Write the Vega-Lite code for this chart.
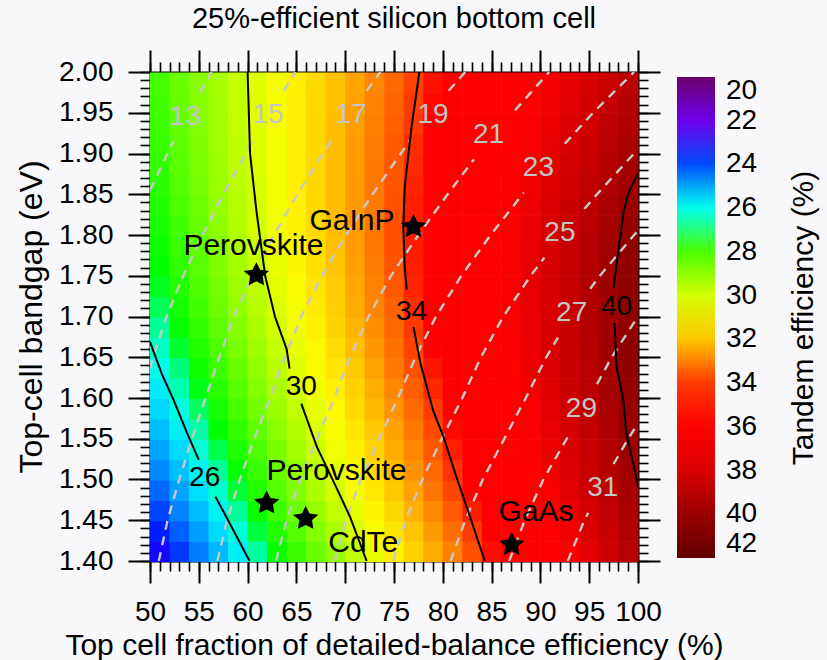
{
"$schema":"https://vega.github.io/schema/vega-lite/v6.json",
"autosize":"none","width":488,"height":489,
"padding":{"left":150,"top":72,"right":189,"bottom":99},
"background":"#f8f8fa",
"title":{"text":"25%-efficient silicon bottom cell","fontSize":29,"fontWeight":"normal","font":"Liberation Sans","color":"black","anchor":"middle","baseline":"bottom","offset":16,"dy":30},
"config":{"font":"Liberation Sans","view":{"stroke":null},"axis":{"grid":false,"domainColor":"black","tickColor":"black","labelColor":"black","titleColor":"black","labelFont":"Liberation Sans","titleFont":"Liberation Sans","titleFontWeight":"normal","labelOverlap":false,"labelFlush":false,"labelBound":false}},
"datasets":{
"heat":[
{"x":51,"y":1.4125,"v":23.13},{"x":53,"y":1.4125,"v":23.79},{"x":55,"y":1.4125,"v":24.46},{"x":57,"y":1.4125,"v":25.12},{"x":59,"y":1.4125,"v":25.78},{"x":61,"y":1.4125,"v":26.44},{"x":63,"y":1.4125,"v":27.10},{"x":65,"y":1.4125,"v":27.77},{"x":67,"y":1.4125,"v":28.43},{"x":69,"y":1.4125,"v":29.09},{"x":71,"y":1.4125,"v":29.75},{"x":73,"y":1.4125,"v":30.41},{"x":75,"y":1.4125,"v":31.08},{"x":77,"y":1.4125,"v":31.74},{"x":79,"y":1.4125,"v":32.40},{"x":81,"y":1.4125,"v":33.06},{"x":83,"y":1.4125,"v":33.72},{"x":85,"y":1.4125,"v":34.39},{"x":87,"y":1.4125,"v":35.05},{"x":89,"y":1.4125,"v":35.71},{"x":91,"y":1.4125,"v":36.37},{"x":93,"y":1.4125,"v":37.03},{"x":95,"y":1.4125,"v":37.70},{"x":97,"y":1.4125,"v":38.36},{"x":99,"y":1.4125,"v":39.02},
{"x":51,"y":1.4375,"v":23.53},{"x":53,"y":1.4375,"v":24.18},{"x":55,"y":1.4375,"v":24.84},{"x":57,"y":1.4375,"v":25.49},{"x":59,"y":1.4375,"v":26.14},{"x":61,"y":1.4375,"v":26.80},{"x":63,"y":1.4375,"v":27.45},{"x":65,"y":1.4375,"v":28.11},{"x":67,"y":1.4375,"v":28.76},{"x":69,"y":1.4375,"v":29.41},{"x":71,"y":1.4375,"v":30.07},{"x":73,"y":1.4375,"v":30.72},{"x":75,"y":1.4375,"v":31.38},{"x":77,"y":1.4375,"v":32.03},{"x":79,"y":1.4375,"v":32.68},{"x":81,"y":1.4375,"v":33.34},{"x":83,"y":1.4375,"v":33.99},{"x":85,"y":1.4375,"v":34.65},{"x":87,"y":1.4375,"v":35.30},{"x":89,"y":1.4375,"v":35.95},{"x":91,"y":1.4375,"v":36.61},{"x":93,"y":1.4375,"v":37.26},{"x":95,"y":1.4375,"v":37.92},{"x":97,"y":1.4375,"v":38.57},{"x":99,"y":1.4375,"v":39.22},
{"x":51,"y":1.4625,"v":23.90},{"x":53,"y":1.4625,"v":24.55},{"x":55,"y":1.4625,"v":25.20},{"x":57,"y":1.4625,"v":25.84},{"x":59,"y":1.4625,"v":26.49},{"x":61,"y":1.4625,"v":27.14},{"x":63,"y":1.4625,"v":27.78},{"x":65,"y":1.4625,"v":28.43},{"x":67,"y":1.4625,"v":29.08},{"x":69,"y":1.4625,"v":29.72},{"x":71,"y":1.4625,"v":30.37},{"x":73,"y":1.4625,"v":31.02},{"x":75,"y":1.4625,"v":31.66},{"x":77,"y":1.4625,"v":32.31},{"x":79,"y":1.4625,"v":32.96},{"x":81,"y":1.4625,"v":33.60},{"x":83,"y":1.4625,"v":34.25},{"x":85,"y":1.4625,"v":34.90},{"x":87,"y":1.4625,"v":35.54},{"x":89,"y":1.4625,"v":36.19},{"x":91,"y":1.4625,"v":36.84},{"x":93,"y":1.4625,"v":37.48},{"x":95,"y":1.4625,"v":38.13},{"x":97,"y":1.4625,"v":38.78},{"x":99,"y":1.4625,"v":39.42},
{"x":51,"y":1.4875,"v":24.26},{"x":53,"y":1.4875,"v":24.90},{"x":55,"y":1.4875,"v":25.54},{"x":57,"y":1.4875,"v":26.18},{"x":59,"y":1.4875,"v":26.82},{"x":61,"y":1.4875,"v":27.46},{"x":63,"y":1.4875,"v":28.10},{"x":65,"y":1.4875,"v":28.74},{"x":67,"y":1.4875,"v":29.38},{"x":69,"y":1.4875,"v":30.02},{"x":71,"y":1.4875,"v":30.66},{"x":73,"y":1.4875,"v":31.30},{"x":75,"y":1.4875,"v":31.94},{"x":77,"y":1.4875,"v":32.57},{"x":79,"y":1.4875,"v":33.21},{"x":81,"y":1.4875,"v":33.85},{"x":83,"y":1.4875,"v":34.49},{"x":85,"y":1.4875,"v":35.13},{"x":87,"y":1.4875,"v":35.77},{"x":89,"y":1.4875,"v":36.41},{"x":91,"y":1.4875,"v":37.05},{"x":93,"y":1.4875,"v":37.69},{"x":95,"y":1.4875,"v":38.33},{"x":97,"y":1.4875,"v":38.97},{"x":99,"y":1.4875,"v":39.61},
{"x":51,"y":1.5125,"v":24.59},{"x":53,"y":1.5125,"v":25.22},{"x":55,"y":1.5125,"v":25.85},{"x":57,"y":1.5125,"v":26.48},{"x":59,"y":1.5125,"v":27.11},{"x":61,"y":1.5125,"v":27.75},{"x":63,"y":1.5125,"v":28.38},{"x":65,"y":1.5125,"v":29.01},{"x":67,"y":1.5125,"v":29.64},{"x":69,"y":1.5125,"v":30.27},{"x":71,"y":1.5125,"v":30.91},{"x":73,"y":1.5125,"v":31.54},{"x":75,"y":1.5125,"v":32.17},{"x":77,"y":1.5125,"v":32.80},{"x":79,"y":1.5125,"v":33.43},{"x":81,"y":1.5125,"v":34.07},{"x":83,"y":1.5125,"v":34.70},{"x":85,"y":1.5125,"v":35.33},{"x":87,"y":1.5125,"v":35.96},{"x":89,"y":1.5125,"v":36.59},{"x":91,"y":1.5125,"v":37.23},{"x":93,"y":1.5125,"v":37.86},{"x":95,"y":1.5125,"v":38.49},{"x":97,"y":1.5125,"v":39.12},{"x":99,"y":1.5125,"v":39.75},
{"x":51,"y":1.5375,"v":24.88},{"x":53,"y":1.5375,"v":25.51},{"x":55,"y":1.5375,"v":26.13},{"x":57,"y":1.5375,"v":26.75},{"x":59,"y":1.5375,"v":27.38},{"x":61,"y":1.5375,"v":28.00},{"x":63,"y":1.5375,"v":28.63},{"x":65,"y":1.5375,"v":29.25},{"x":67,"y":1.5375,"v":29.87},{"x":69,"y":1.5375,"v":30.50},{"x":71,"y":1.5375,"v":31.12},{"x":73,"y":1.5375,"v":31.75},{"x":75,"y":1.5375,"v":32.37},{"x":77,"y":1.5375,"v":32.99},{"x":79,"y":1.5375,"v":33.62},{"x":81,"y":1.5375,"v":34.24},{"x":83,"y":1.5375,"v":34.87},{"x":85,"y":1.5375,"v":35.49},{"x":87,"y":1.5375,"v":36.11},{"x":89,"y":1.5375,"v":36.74},{"x":91,"y":1.5375,"v":37.36},{"x":93,"y":1.5375,"v":37.99},{"x":95,"y":1.5375,"v":38.61},{"x":97,"y":1.5375,"v":39.23},{"x":99,"y":1.5375,"v":39.86},
{"x":51,"y":1.5625,"v":25.17},{"x":53,"y":1.5625,"v":25.79},{"x":55,"y":1.5625,"v":26.41},{"x":57,"y":1.5625,"v":27.02},{"x":59,"y":1.5625,"v":27.64},{"x":61,"y":1.5625,"v":28.26},{"x":63,"y":1.5625,"v":28.87},{"x":65,"y":1.5625,"v":29.49},{"x":67,"y":1.5625,"v":30.11},{"x":69,"y":1.5625,"v":30.72},{"x":71,"y":1.5625,"v":31.34},{"x":73,"y":1.5625,"v":31.96},{"x":75,"y":1.5625,"v":32.57},{"x":77,"y":1.5625,"v":33.19},{"x":79,"y":1.5625,"v":33.81},{"x":81,"y":1.5625,"v":34.42},{"x":83,"y":1.5625,"v":35.04},{"x":85,"y":1.5625,"v":35.66},{"x":87,"y":1.5625,"v":36.27},{"x":89,"y":1.5625,"v":36.89},{"x":91,"y":1.5625,"v":37.51},{"x":93,"y":1.5625,"v":38.12},{"x":95,"y":1.5625,"v":38.74},{"x":97,"y":1.5625,"v":39.36},{"x":99,"y":1.5625,"v":39.97},
{"x":51,"y":1.5875,"v":25.46},{"x":53,"y":1.5875,"v":26.07},{"x":55,"y":1.5875,"v":26.68},{"x":57,"y":1.5875,"v":27.29},{"x":59,"y":1.5875,"v":27.90},{"x":61,"y":1.5875,"v":28.51},{"x":63,"y":1.5875,"v":29.12},{"x":65,"y":1.5875,"v":29.73},{"x":67,"y":1.5875,"v":30.34},{"x":69,"y":1.5875,"v":30.95},{"x":71,"y":1.5875,"v":31.56},{"x":73,"y":1.5875,"v":32.17},{"x":75,"y":1.5875,"v":32.78},{"x":77,"y":1.5875,"v":33.38},{"x":79,"y":1.5875,"v":33.99},{"x":81,"y":1.5875,"v":34.60},{"x":83,"y":1.5875,"v":35.21},{"x":85,"y":1.5875,"v":35.82},{"x":87,"y":1.5875,"v":36.43},{"x":89,"y":1.5875,"v":37.04},{"x":91,"y":1.5875,"v":37.65},{"x":93,"y":1.5875,"v":38.26},{"x":95,"y":1.5875,"v":38.87},{"x":97,"y":1.5875,"v":39.48},{"x":99,"y":1.5875,"v":40.09},
{"x":51,"y":1.6125,"v":25.74},{"x":53,"y":1.6125,"v":26.34},{"x":55,"y":1.6125,"v":26.94},{"x":57,"y":1.6125,"v":27.54},{"x":59,"y":1.6125,"v":28.15},{"x":61,"y":1.6125,"v":28.75},{"x":63,"y":1.6125,"v":29.35},{"x":65,"y":1.6125,"v":29.95},{"x":67,"y":1.6125,"v":30.55},{"x":69,"y":1.6125,"v":31.16},{"x":71,"y":1.6125,"v":31.76},{"x":73,"y":1.6125,"v":32.36},{"x":75,"y":1.6125,"v":32.96},{"x":77,"y":1.6125,"v":33.56},{"x":79,"y":1.6125,"v":34.17},{"x":81,"y":1.6125,"v":34.77},{"x":83,"y":1.6125,"v":35.37},{"x":85,"y":1.6125,"v":35.97},{"x":87,"y":1.6125,"v":36.57},{"x":89,"y":1.6125,"v":37.18},{"x":91,"y":1.6125,"v":37.78},{"x":93,"y":1.6125,"v":38.38},{"x":95,"y":1.6125,"v":38.98},{"x":97,"y":1.6125,"v":39.58},{"x":99,"y":1.6125,"v":40.19},
{"x":51,"y":1.6375,"v":26.01},{"x":53,"y":1.6375,"v":26.60},{"x":55,"y":1.6375,"v":27.20},{"x":57,"y":1.6375,"v":27.79},{"x":59,"y":1.6375,"v":28.39},{"x":61,"y":1.6375,"v":28.98},{"x":63,"y":1.6375,"v":29.57},{"x":65,"y":1.6375,"v":30.17},{"x":67,"y":1.6375,"v":30.76},{"x":69,"y":1.6375,"v":31.36},{"x":71,"y":1.6375,"v":31.95},{"x":73,"y":1.6375,"v":32.54},{"x":75,"y":1.6375,"v":33.14},{"x":77,"y":1.6375,"v":33.73},{"x":79,"y":1.6375,"v":34.33},{"x":81,"y":1.6375,"v":34.92},{"x":83,"y":1.6375,"v":35.51},{"x":85,"y":1.6375,"v":36.11},{"x":87,"y":1.6375,"v":36.70},{"x":89,"y":1.6375,"v":37.30},{"x":91,"y":1.6375,"v":37.89},{"x":93,"y":1.6375,"v":38.48},{"x":95,"y":1.6375,"v":39.08},{"x":97,"y":1.6375,"v":39.67},{"x":99,"y":1.6375,"v":40.27},
{"x":51,"y":1.6625,"v":26.26},{"x":53,"y":1.6625,"v":26.85},{"x":55,"y":1.6625,"v":27.44},{"x":57,"y":1.6625,"v":28.02},{"x":59,"y":1.6625,"v":28.61},{"x":61,"y":1.6625,"v":29.19},{"x":63,"y":1.6625,"v":29.78},{"x":65,"y":1.6625,"v":30.37},{"x":67,"y":1.6625,"v":30.95},{"x":69,"y":1.6625,"v":31.54},{"x":71,"y":1.6625,"v":32.12},{"x":73,"y":1.6625,"v":32.71},{"x":75,"y":1.6625,"v":33.30},{"x":77,"y":1.6625,"v":33.88},{"x":79,"y":1.6625,"v":34.47},{"x":81,"y":1.6625,"v":35.05},{"x":83,"y":1.6625,"v":35.64},{"x":85,"y":1.6625,"v":36.23},{"x":87,"y":1.6625,"v":36.81},{"x":89,"y":1.6625,"v":37.40},{"x":91,"y":1.6625,"v":37.98},{"x":93,"y":1.6625,"v":38.57},{"x":95,"y":1.6625,"v":39.16},{"x":97,"y":1.6625,"v":39.74},{"x":99,"y":1.6625,"v":40.33},
{"x":51,"y":1.6875,"v":26.50},{"x":53,"y":1.6875,"v":27.08},{"x":55,"y":1.6875,"v":27.66},{"x":57,"y":1.6875,"v":28.23},{"x":59,"y":1.6875,"v":28.81},{"x":61,"y":1.6875,"v":29.39},{"x":63,"y":1.6875,"v":29.97},{"x":65,"y":1.6875,"v":30.55},{"x":67,"y":1.6875,"v":31.12},{"x":69,"y":1.6875,"v":31.70},{"x":71,"y":1.6875,"v":32.28},{"x":73,"y":1.6875,"v":32.86},{"x":75,"y":1.6875,"v":33.44},{"x":77,"y":1.6875,"v":34.01},{"x":79,"y":1.6875,"v":34.59},{"x":81,"y":1.6875,"v":35.17},{"x":83,"y":1.6875,"v":35.75},{"x":85,"y":1.6875,"v":36.33},{"x":87,"y":1.6875,"v":36.90},{"x":89,"y":1.6875,"v":37.48},{"x":91,"y":1.6875,"v":38.06},{"x":93,"y":1.6875,"v":38.64},{"x":95,"y":1.6875,"v":39.22},{"x":97,"y":1.6875,"v":39.79},{"x":99,"y":1.6875,"v":40.37},
{"x":51,"y":1.7125,"v":26.71},{"x":53,"y":1.7125,"v":27.28},{"x":55,"y":1.7125,"v":27.85},{"x":57,"y":1.7125,"v":28.42},{"x":59,"y":1.7125,"v":28.99},{"x":61,"y":1.7125,"v":29.56},{"x":63,"y":1.7125,"v":30.12},{"x":65,"y":1.7125,"v":30.69},{"x":67,"y":1.7125,"v":31.26},{"x":69,"y":1.7125,"v":31.83},{"x":71,"y":1.7125,"v":32.40},{"x":73,"y":1.7125,"v":32.97},{"x":75,"y":1.7125,"v":33.54},{"x":77,"y":1.7125,"v":34.11},{"x":79,"y":1.7125,"v":34.68},{"x":81,"y":1.7125,"v":35.25},{"x":83,"y":1.7125,"v":35.82},{"x":85,"y":1.7125,"v":36.39},{"x":87,"y":1.7125,"v":36.96},{"x":89,"y":1.7125,"v":37.53},{"x":91,"y":1.7125,"v":38.10},{"x":93,"y":1.7125,"v":38.67},{"x":95,"y":1.7125,"v":39.24},{"x":97,"y":1.7125,"v":39.81},{"x":99,"y":1.7125,"v":40.38},
{"x":51,"y":1.7375,"v":26.89},{"x":53,"y":1.7375,"v":27.45},{"x":55,"y":1.7375,"v":28.01},{"x":57,"y":1.7375,"v":28.57},{"x":59,"y":1.7375,"v":29.13},{"x":61,"y":1.7375,"v":29.69},{"x":63,"y":1.7375,"v":30.25},{"x":65,"y":1.7375,"v":30.81},{"x":67,"y":1.7375,"v":31.37},{"x":69,"y":1.7375,"v":31.93},{"x":71,"y":1.7375,"v":32.49},{"x":73,"y":1.7375,"v":33.05},{"x":75,"y":1.7375,"v":33.62},{"x":77,"y":1.7375,"v":34.18},{"x":79,"y":1.7375,"v":34.74},{"x":81,"y":1.7375,"v":35.30},{"x":83,"y":1.7375,"v":35.86},{"x":85,"y":1.7375,"v":36.42},{"x":87,"y":1.7375,"v":36.98},{"x":89,"y":1.7375,"v":37.54},{"x":91,"y":1.7375,"v":38.10},{"x":93,"y":1.7375,"v":38.66},{"x":95,"y":1.7375,"v":39.22},{"x":97,"y":1.7375,"v":39.78},{"x":99,"y":1.7375,"v":40.34},
{"x":51,"y":1.7625,"v":27.05},{"x":53,"y":1.7625,"v":27.60},{"x":55,"y":1.7625,"v":28.16},{"x":57,"y":1.7625,"v":28.71},{"x":59,"y":1.7625,"v":29.26},{"x":61,"y":1.7625,"v":29.81},{"x":63,"y":1.7625,"v":30.36},{"x":65,"y":1.7625,"v":30.92},{"x":67,"y":1.7625,"v":31.47},{"x":69,"y":1.7625,"v":32.02},{"x":71,"y":1.7625,"v":32.57},{"x":73,"y":1.7625,"v":33.12},{"x":75,"y":1.7625,"v":33.68},{"x":77,"y":1.7625,"v":34.23},{"x":79,"y":1.7625,"v":34.78},{"x":81,"y":1.7625,"v":35.33},{"x":83,"y":1.7625,"v":35.88},{"x":85,"y":1.7625,"v":36.44},{"x":87,"y":1.7625,"v":36.99},{"x":89,"y":1.7625,"v":37.54},{"x":91,"y":1.7625,"v":38.09},{"x":93,"y":1.7625,"v":38.64},{"x":95,"y":1.7625,"v":39.20},{"x":97,"y":1.7625,"v":39.75},{"x":99,"y":1.7625,"v":40.30},
{"x":51,"y":1.7875,"v":27.20},{"x":53,"y":1.7875,"v":27.74},{"x":55,"y":1.7875,"v":28.29},{"x":57,"y":1.7875,"v":28.83},{"x":59,"y":1.7875,"v":29.37},{"x":61,"y":1.7875,"v":29.92},{"x":63,"y":1.7875,"v":30.46},{"x":65,"y":1.7875,"v":31.01},{"x":67,"y":1.7875,"v":31.55},{"x":69,"y":1.7875,"v":32.09},{"x":71,"y":1.7875,"v":32.64},{"x":73,"y":1.7875,"v":33.18},{"x":75,"y":1.7875,"v":33.73},{"x":77,"y":1.7875,"v":34.27},{"x":79,"y":1.7875,"v":34.81},{"x":81,"y":1.7875,"v":35.36},{"x":83,"y":1.7875,"v":35.90},{"x":85,"y":1.7875,"v":36.45},{"x":87,"y":1.7875,"v":36.99},{"x":89,"y":1.7875,"v":37.53},{"x":91,"y":1.7875,"v":38.08},{"x":93,"y":1.7875,"v":38.62},{"x":95,"y":1.7875,"v":39.17},{"x":97,"y":1.7875,"v":39.71},{"x":99,"y":1.7875,"v":40.25},
{"x":51,"y":1.8125,"v":27.33},{"x":53,"y":1.8125,"v":27.86},{"x":55,"y":1.8125,"v":28.40},{"x":57,"y":1.8125,"v":28.93},{"x":59,"y":1.8125,"v":29.47},{"x":61,"y":1.8125,"v":30.00},{"x":63,"y":1.8125,"v":30.53},{"x":65,"y":1.8125,"v":31.07},{"x":67,"y":1.8125,"v":31.60},{"x":69,"y":1.8125,"v":32.14},{"x":71,"y":1.8125,"v":32.67},{"x":73,"y":1.8125,"v":33.20},{"x":75,"y":1.8125,"v":33.74},{"x":77,"y":1.8125,"v":34.27},{"x":79,"y":1.8125,"v":34.81},{"x":81,"y":1.8125,"v":35.34},{"x":83,"y":1.8125,"v":35.87},{"x":85,"y":1.8125,"v":36.41},{"x":87,"y":1.8125,"v":36.94},{"x":89,"y":1.8125,"v":37.48},{"x":91,"y":1.8125,"v":38.01},{"x":93,"y":1.8125,"v":38.54},{"x":95,"y":1.8125,"v":39.08},{"x":97,"y":1.8125,"v":39.61},{"x":99,"y":1.8125,"v":40.15},
{"x":51,"y":1.8375,"v":27.45},{"x":53,"y":1.8375,"v":27.97},{"x":55,"y":1.8375,"v":28.49},{"x":57,"y":1.8375,"v":29.01},{"x":59,"y":1.8375,"v":29.54},{"x":61,"y":1.8375,"v":30.06},{"x":63,"y":1.8375,"v":30.58},{"x":65,"y":1.8375,"v":31.10},{"x":67,"y":1.8375,"v":31.62},{"x":69,"y":1.8375,"v":32.15},{"x":71,"y":1.8375,"v":32.67},{"x":73,"y":1.8375,"v":33.19},{"x":75,"y":1.8375,"v":33.71},{"x":77,"y":1.8375,"v":34.23},{"x":79,"y":1.8375,"v":34.76},{"x":81,"y":1.8375,"v":35.28},{"x":83,"y":1.8375,"v":35.80},{"x":85,"y":1.8375,"v":36.32},{"x":87,"y":1.8375,"v":36.84},{"x":89,"y":1.8375,"v":37.37},{"x":91,"y":1.8375,"v":37.89},{"x":93,"y":1.8375,"v":38.41},{"x":95,"y":1.8375,"v":38.93},{"x":97,"y":1.8375,"v":39.45},{"x":99,"y":1.8375,"v":39.98},
{"x":51,"y":1.8625,"v":27.56},{"x":53,"y":1.8625,"v":28.07},{"x":55,"y":1.8625,"v":28.58},{"x":57,"y":1.8625,"v":29.09},{"x":59,"y":1.8625,"v":29.60},{"x":61,"y":1.8625,"v":30.11},{"x":63,"y":1.8625,"v":30.62},{"x":65,"y":1.8625,"v":31.13},{"x":67,"y":1.8625,"v":31.64},{"x":69,"y":1.8625,"v":32.15},{"x":71,"y":1.8625,"v":32.66},{"x":73,"y":1.8625,"v":33.17},{"x":75,"y":1.8625,"v":33.69},{"x":77,"y":1.8625,"v":34.20},{"x":79,"y":1.8625,"v":34.71},{"x":81,"y":1.8625,"v":35.22},{"x":83,"y":1.8625,"v":35.73},{"x":85,"y":1.8625,"v":36.24},{"x":87,"y":1.8625,"v":36.75},{"x":89,"y":1.8625,"v":37.26},{"x":91,"y":1.8625,"v":37.77},{"x":93,"y":1.8625,"v":38.28},{"x":95,"y":1.8625,"v":38.79},{"x":97,"y":1.8625,"v":39.30},{"x":99,"y":1.8625,"v":39.81},
{"x":51,"y":1.8875,"v":27.66},{"x":53,"y":1.8875,"v":28.16},{"x":55,"y":1.8875,"v":28.66},{"x":57,"y":1.8875,"v":29.16},{"x":59,"y":1.8875,"v":29.66},{"x":61,"y":1.8875,"v":30.16},{"x":63,"y":1.8875,"v":30.65},{"x":65,"y":1.8875,"v":31.15},{"x":67,"y":1.8875,"v":31.65},{"x":69,"y":1.8875,"v":32.15},{"x":71,"y":1.8875,"v":32.65},{"x":73,"y":1.8875,"v":33.15},{"x":75,"y":1.8875,"v":33.65},{"x":77,"y":1.8875,"v":34.15},{"x":79,"y":1.8875,"v":34.65},{"x":81,"y":1.8875,"v":35.15},{"x":83,"y":1.8875,"v":35.65},{"x":85,"y":1.8875,"v":36.15},{"x":87,"y":1.8875,"v":36.65},{"x":89,"y":1.8875,"v":37.15},{"x":91,"y":1.8875,"v":37.65},{"x":93,"y":1.8875,"v":38.15},{"x":95,"y":1.8875,"v":38.65},{"x":97,"y":1.8875,"v":39.15},{"x":99,"y":1.8875,"v":39.65},
{"x":51,"y":1.9125,"v":27.74},{"x":53,"y":1.9125,"v":28.23},{"x":55,"y":1.9125,"v":28.72},{"x":57,"y":1.9125,"v":29.21},{"x":59,"y":1.9125,"v":29.70},{"x":61,"y":1.9125,"v":30.18},{"x":63,"y":1.9125,"v":30.67},{"x":65,"y":1.9125,"v":31.16},{"x":67,"y":1.9125,"v":31.65},{"x":69,"y":1.9125,"v":32.14},{"x":71,"y":1.9125,"v":32.63},{"x":73,"y":1.9125,"v":33.12},{"x":75,"y":1.9125,"v":33.61},{"x":77,"y":1.9125,"v":34.10},{"x":79,"y":1.9125,"v":34.59},{"x":81,"y":1.9125,"v":35.07},{"x":83,"y":1.9125,"v":35.56},{"x":85,"y":1.9125,"v":36.05},{"x":87,"y":1.9125,"v":36.54},{"x":89,"y":1.9125,"v":37.03},{"x":91,"y":1.9125,"v":37.52},{"x":93,"y":1.9125,"v":38.01},{"x":95,"y":1.9125,"v":38.50},{"x":97,"y":1.9125,"v":38.99},{"x":99,"y":1.9125,"v":39.48},
{"x":51,"y":1.9375,"v":27.80},{"x":53,"y":1.9375,"v":28.28},{"x":55,"y":1.9375,"v":28.76},{"x":57,"y":1.9375,"v":29.24},{"x":59,"y":1.9375,"v":29.72},{"x":61,"y":1.9375,"v":30.20},{"x":63,"y":1.9375,"v":30.68},{"x":65,"y":1.9375,"v":31.16},{"x":67,"y":1.9375,"v":31.64},{"x":69,"y":1.9375,"v":32.12},{"x":71,"y":1.9375,"v":32.59},{"x":73,"y":1.9375,"v":33.07},{"x":75,"y":1.9375,"v":33.55},{"x":77,"y":1.9375,"v":34.03},{"x":79,"y":1.9375,"v":34.51},{"x":81,"y":1.9375,"v":34.99},{"x":83,"y":1.9375,"v":35.47},{"x":85,"y":1.9375,"v":35.95},{"x":87,"y":1.9375,"v":36.43},{"x":89,"y":1.9375,"v":36.91},{"x":91,"y":1.9375,"v":37.38},{"x":93,"y":1.9375,"v":37.86},{"x":95,"y":1.9375,"v":38.34},{"x":97,"y":1.9375,"v":38.82},{"x":99,"y":1.9375,"v":39.30},
{"x":51,"y":1.9625,"v":27.87},{"x":53,"y":1.9625,"v":28.34},{"x":55,"y":1.9625,"v":28.81},{"x":57,"y":1.9625,"v":29.27},{"x":59,"y":1.9625,"v":29.74},{"x":61,"y":1.9625,"v":30.21},{"x":63,"y":1.9625,"v":30.68},{"x":65,"y":1.9625,"v":31.15},{"x":67,"y":1.9625,"v":31.62},{"x":69,"y":1.9625,"v":32.09},{"x":71,"y":1.9625,"v":32.56},{"x":73,"y":1.9625,"v":33.03},{"x":75,"y":1.9625,"v":33.50},{"x":77,"y":1.9625,"v":33.96},{"x":79,"y":1.9625,"v":34.43},{"x":81,"y":1.9625,"v":34.90},{"x":83,"y":1.9625,"v":35.37},{"x":85,"y":1.9625,"v":35.84},{"x":87,"y":1.9625,"v":36.31},{"x":89,"y":1.9625,"v":36.78},{"x":91,"y":1.9625,"v":37.25},{"x":93,"y":1.9625,"v":37.72},{"x":95,"y":1.9625,"v":38.19},{"x":97,"y":1.9625,"v":38.65},{"x":99,"y":1.9625,"v":39.12},
{"x":51,"y":1.9875,"v":27.93},{"x":53,"y":1.9875,"v":28.39},{"x":55,"y":1.9875,"v":28.85},{"x":57,"y":1.9875,"v":29.30},{"x":59,"y":1.9875,"v":29.76},{"x":61,"y":1.9875,"v":30.22},{"x":63,"y":1.9875,"v":30.68},{"x":65,"y":1.9875,"v":31.14},{"x":67,"y":1.9875,"v":31.60},{"x":69,"y":1.9875,"v":32.06},{"x":71,"y":1.9875,"v":32.52},{"x":73,"y":1.9875,"v":32.98},{"x":75,"y":1.9875,"v":33.44},{"x":77,"y":1.9875,"v":33.89},{"x":79,"y":1.9875,"v":34.35},{"x":81,"y":1.9875,"v":34.81},{"x":83,"y":1.9875,"v":35.27},{"x":85,"y":1.9875,"v":35.73},{"x":87,"y":1.9875,"v":36.19},{"x":89,"y":1.9875,"v":36.65},{"x":91,"y":1.9875,"v":37.11},{"x":93,"y":1.9875,"v":37.57},{"x":95,"y":1.9875,"v":38.03},{"x":97,"y":1.9875,"v":38.48},{"x":99,"y":1.9875,"v":38.94}
],
"dash":[
{"g":"13a","x":50,"y":1.855},{"g":"13a","x":51.8,"y":1.90},{"g":"13a","x":52.4,"y":1.915},
{"g":"13b","x":55.1,"y":1.975},{"g":"13b","x":56.3,"y":2.0},
{"g":"15a","x":50,"y":1.636},{"g":"15a","x":50.3,"y":1.65},{"g":"15a","x":51.7,"y":1.70},{"g":"15a","x":53.4,"y":1.75},{"g":"15a","x":55.4,"y":1.80},{"g":"15a","x":57.5,"y":1.85},{"g":"15a","x":59.8,"y":1.90},{"g":"15a","x":60.6,"y":1.917},
{"g":"15b","x":63.7,"y":1.977},{"g":"15b","x":64.9,"y":2.0},
{"g":"17a","x":50.9,"y":1.40},{"g":"17a","x":51.8,"y":1.45},{"g":"17a","x":53.0,"y":1.50},{"g":"17a","x":54.3,"y":1.55},{"g":"17a","x":55.7,"y":1.60},{"g":"17a","x":57.1,"y":1.65},{"g":"17a","x":58.6,"y":1.70},{"g":"17a","x":60.5,"y":1.75},{"g":"17a","x":62.7,"y":1.80},{"g":"17a","x":65.1,"y":1.85},{"g":"17a","x":67.7,"y":1.90},{"g":"17a","x":68.7,"y":1.917},
{"g":"17b","x":72.2,"y":1.977},{"g":"17b","x":73.6,"y":2.0},
{"g":"19a","x":56.9,"y":1.40},{"g":"19a","x":57.9,"y":1.45},{"g":"19a","x":59.2,"y":1.50},{"g":"19a","x":60.7,"y":1.55},{"g":"19a","x":62.3,"y":1.60},{"g":"19a","x":63.8,"y":1.65},{"g":"19a","x":65.5,"y":1.70},{"g":"19a","x":67.6,"y":1.75},{"g":"19a","x":70.1,"y":1.80},{"g":"19a","x":72.8,"y":1.85},{"g":"19a","x":75.7,"y":1.90},{"g":"19a","x":76.7,"y":1.917},
{"g":"19b","x":80.6,"y":1.977},{"g":"19b","x":82.3,"y":2.0},
{"g":"21a","x":62.9,"y":1.40},{"g":"21a","x":64.0,"y":1.45},{"g":"21a","x":65.4,"y":1.50},{"g":"21a","x":67.1,"y":1.55},{"g":"21a","x":68.9,"y":1.60},{"g":"21a","x":70.5,"y":1.65},{"g":"21a","x":72.4,"y":1.70},{"g":"21a","x":74.7,"y":1.75},{"g":"21a","x":77.5,"y":1.80},{"g":"21a","x":80.5,"y":1.85},{"g":"21a","x":83.2,"y":1.893},
{"g":"21b","x":87.4,"y":1.953},{"g":"21b","x":90.9,"y":2.0},
{"g":"23a","x":68.9,"y":1.40},{"g":"23a","x":70.1,"y":1.45},{"g":"23a","x":71.6,"y":1.50},{"g":"23a","x":73.5,"y":1.55},{"g":"23a","x":75.4,"y":1.60},{"g":"23a","x":77.2,"y":1.65},{"g":"23a","x":79.3,"y":1.70},{"g":"23a","x":81.9,"y":1.75},{"g":"23a","x":84.9,"y":1.80},{"g":"23a","x":88.3,"y":1.852},
{"g":"23b","x":92.5,"y":1.912},{"g":"23b","x":95.4,"y":1.95},{"g":"23b","x":99.6,"y":2.0},
{"g":"25a","x":74.9,"y":1.40},{"g":"25a","x":76.2,"y":1.45},{"g":"25a","x":77.9,"y":1.50},{"g":"25a","x":79.9,"y":1.55},{"g":"25a","x":82.0,"y":1.60},{"g":"25a","x":83.9,"y":1.65},{"g":"25a","x":86.2,"y":1.70},{"g":"25a","x":89.0,"y":1.75},{"g":"25a","x":90.4,"y":1.772},
{"g":"25b","x":94.5,"y":1.832},{"g":"25b","x":95.8,"y":1.85},{"g":"25b","x":99.6,"y":1.90},{"g":"25b","x":100,"y":1.905},
{"g":"27a","x":80.8,"y":1.40},{"g":"27a","x":82.3,"y":1.45},{"g":"27a","x":84.1,"y":1.50},{"g":"27a","x":86.3,"y":1.55},{"g":"27a","x":88.5,"y":1.60},{"g":"27a","x":90.6,"y":1.65},{"g":"27a","x":91.8,"y":1.674},
{"g":"27b","x":95.1,"y":1.734},{"g":"27b","x":96.1,"y":1.75},{"g":"27b","x":99.6,"y":1.80},{"g":"27b","x":100,"y":1.805},
{"g":"29a","x":86.8,"y":1.40},{"g":"29a","x":88.4,"y":1.45},{"g":"29a","x":90.3,"y":1.50},{"g":"29a","x":92.7,"y":1.55},{"g":"29a","x":93.0,"y":1.557},
{"g":"29b","x":95.8,"y":1.617},{"g":"29b","x":97.3,"y":1.65},{"g":"29b","x":100,"y":1.70},
{"g":"31a","x":92.8,"y":1.40},{"g":"31a","x":94.5,"y":1.45},{"g":"31a","x":94.9,"y":1.459},
{"g":"31b","x":97.5,"y":1.519},{"g":"31b","x":99.0,"y":1.55},{"g":"31b","x":100,"y":1.569}
],
"contour":[
{"g":"26a","x":50,"y":1.669},{"g":"26a","x":51.2,"y":1.63},{"g":"26a","x":52.4,"y":1.598},{"g":"26a","x":53.8,"y":1.557},{"g":"26a","x":55.0,"y":1.524},
{"g":"26b","x":56.7,"y":1.479},{"g":"26b","x":58.0,"y":1.45},{"g":"26b","x":60.2,"y":1.40},
{"g":"30a","x":60.0,"y":2.0},{"g":"30a","x":60.25,"y":1.90},{"g":"30a","x":60.9,"y":1.83},{"g":"30a","x":61.8,"y":1.75},{"g":"30a","x":62.8,"y":1.70},{"g":"30a","x":64.0,"y":1.66},{"g":"30a","x":64.3,"y":1.636},
{"g":"30b","x":65.5,"y":1.593},{"g":"30b","x":67.1,"y":1.54},{"g":"30b","x":69.1,"y":1.49},{"g":"30b","x":70.5,"y":1.454},{"g":"30b","x":72.2,"y":1.40},
{"g":"34a","x":77.6,"y":2.0},{"g":"34a","x":76.8,"y":1.933},{"g":"34a","x":76.1,"y":1.859},{"g":"34a","x":75.95,"y":1.81},{"g":"34a","x":76.1,"y":1.76},{"g":"34a","x":76.3,"y":1.733},
{"g":"34b","x":77.0,"y":1.687},{"g":"34b","x":77.7,"y":1.643},{"g":"34b","x":79.0,"y":1.585},{"g":"34b","x":80.05,"y":1.553},{"g":"34b","x":81.4,"y":1.503},{"g":"34b","x":82.8,"y":1.454},{"g":"34b","x":84.3,"y":1.40},
{"g":"40a","x":100,"y":1.876},{"g":"40a","x":99.0,"y":1.851},{"g":"40a","x":98.5,"y":1.827},{"g":"40a","x":98.0,"y":1.782},{"g":"40a","x":97.5,"y":1.735},
{"g":"40b","x":97.6,"y":1.692},{"g":"40b","x":97.8,"y":1.638},{"g":"40b","x":98.5,"y":1.598},{"g":"40b","x":98.8,"y":1.557},{"g":"40b","x":99.9,"y":1.499},{"g":"40b","x":100,"y":1.49}
],
"glabels":[
{"t":"13","x":53.6,"y":1.945},{"t":"15","x":62.1,"y":1.947},{"t":"17","x":70.6,"y":1.947},{"t":"19","x":79.0,"y":1.947},{"t":"21","x":84.7,"y":1.923},{"t":"23","x":89.8,"y":1.882},{"t":"25","x":92.0,"y":1.802},{"t":"27","x":93.2,"y":1.704},{"t":"29","x":94.2,"y":1.587},{"t":"31","x":96.4,"y":1.489}
],
"clabels":[
{"t":"26","x":55.6,"y":1.502},{"t":"30","x":65.5,"y":1.613},{"t":"34","x":76.8,"y":1.706},{"t":"40","x":97.8,"y":1.712}
],
"stars":[
{"x":60.9,"y":1.751},{"x":77.0,"y":1.81},{"x":61.95,"y":1.471},{"x":65.95,"y":1.452},{"x":87.06,"y":1.42}
],
"names":[
{"t":"Perovskite","x":60.6,"y":1.786},{"t":"GaInP","x":70.7,"y":1.817},{"t":"Perovskite","x":69.1,"y":1.51},{"t":"CdTe","x":71.85,"y":1.422},{"t":"GaAs","x":89.55,"y":1.46}
]
},
"resolve":{"axis":{"x":"independent","y":"independent"}},
"layer":[
{"data":{"name":"heat"},"mark":{"type":"rect","x2Offset":-0.6,"y2Offset":0.6},
 "encoding":{
  "x":{"field":"x","type":"quantitative","bin":{"step":2,"extent":[50,100],"nice":false},"scale":{"domain":[50,100],"nice":false,"zero":false},"axis":null},
  "y":{"field":"y","type":"quantitative","bin":{"step":0.025,"extent":[1.4,2.0],"nice":false},"scale":{"domain":[1.4,2.0],"nice":false,"zero":false},"axis":null},
  "color":{"aggregate":"mean","field":"v","type":"quantitative",
   "scale":{"type":"linear","interpolate":"rgb",
     "domain":[42,41.5,41,40.5,40,39.5,39,38.5,38,37.5,37,36.5,36,35.5,35,34.5,34,33.5,33,32.5,32,31.5,31,30.5,30,29.5,29,28.5,28,27.5,27,26.5,26,25.5,25,24.5,24,23.5,23,22.5,22,21.5,21,20.5,20],
     "range":["#600000","#6f0000","#7d0000","#8c0000","#9a0000","#aa0000","#b90000","#c90000","#d90000","#e90000","#f90000","#ff0000","#ff0000","#ff0000","#ff0000","#ff0000","#ff3a00","#ff6300","#ff8500","#ffa600","#ffc600","#ffdf00","#fff600","#efff00","#d4ff00","#b3ff00","#92ff00","#71ff00","#4cff00","#26ff00","#00ff00","#00ff96","#00ffed","#00dbff","#00adff","#0080ff","#004dff","#001aff","#1d00ff","#5800ff","#6f00ec","#6e00cb","#6d00ab","#6c008b","#6b006b"]},
   "legend":{"type":"gradient","orient":"none","legendX":527,"legendY":5,"direction":"vertical","gradientLength":481,"gradientThickness":38,"values":[20,22,24,26,28,30,32,34,36,38,40,42],"format":"d","labelFontSize":28,"labelOffset":11,"labelBaseline":"middle","labelFont":"Liberation Sans","labelColor":"black","title":"Tandem efficiency (%)","titleFontSize":30,"titleFont":"Liberation Sans","titleFontWeight":"normal","titleColor":"black","titleOrient":"right","titleAnchor":"middle","titleAlign":"center","titleBaseline":"top","titlePadding":32,"titleLimit":600,"padding":0,"gradientStrokeWidth":0,
     "encode":{"title":{"update":{"angle":{"value":270}}}}}}
 }},
{"data":{"name":"dash"},"mark":{"type":"line","color":"#c8c8c8","strokeWidth":2.4,"strokeDash":[9,7],"clip":true},
 "encoding":{
  "x":{"field":"x","type":"quantitative","scale":{"domain":[50,100],"nice":false,"zero":false},
   "axis":{"orient":"bottom","values":[50,55,60,65,70,75,80,85,90,95,100],"format":"d","tickSize":22,"tickWidth":2,"domainWidth":2,"labelFontSize":28,"labelPadding":15,"title":"Top cell fraction of detailed-balance efficiency (%)","titleFontSize":30,"titlePadding":4}},
  "y":{"field":"y","type":"quantitative","scale":{"domain":[1.4,2.0],"nice":false,"zero":false},
   "axis":{"orient":"left","values":[1.4,1.45,1.5,1.55,1.6,1.65,1.7,1.75,1.8,1.85,1.9,1.95,2.0],"format":".2f","tickSize":22,"tickWidth":2,"domainWidth":2,"labelFontSize":28,"labelPadding":15,"title":"Top-cell bandgap (eV)","titleFontSize":32,"titlePadding":10}},
  "detail":{"field":"g","type":"nominal"},
  "order":{"field":"y","type":"quantitative"}
 }},
{"data":{"name":"contour"},"mark":{"type":"line","color":"black","strokeWidth":2,"clip":true},
 "encoding":{
  "x":{"field":"x","type":"quantitative","scale":{"domain":[50,100],"nice":false,"zero":false},
   "axis":{"orient":"bottom","values":[50,51,52,53,54,55,56,57,58,59,60,61,62,63,64,65,66,67,68,69,70,71,72,73,74,75,76,77,78,79,80,81,82,83,84,85,86,87,88,89,90,91,92,93,94,95,96,97,98,99,100],"tickSize":10,"tickWidth":1.6,"domain":false,"labels":false,"title":null}},
  "y":{"field":"y","type":"quantitative","scale":{"domain":[1.4,2.0],"nice":false,"zero":false},
   "axis":{"orient":"left","values":[1.4,1.41,1.42,1.43,1.44,1.45,1.46,1.47,1.48,1.49,1.5,1.51,1.52,1.53,1.54,1.55,1.56,1.57,1.58,1.59,1.6,1.61,1.62,1.63,1.64,1.65,1.66,1.67,1.68,1.69,1.7,1.71,1.72,1.73,1.74,1.75,1.76,1.77,1.78,1.79,1.8,1.81,1.82,1.83,1.84,1.85,1.86,1.87,1.88,1.89,1.9,1.91,1.92,1.93,1.94,1.95,1.96,1.97,1.98,1.99,2.0],"tickSize":10,"tickWidth":1.6,"domain":false,"labels":false,"title":null}},
  "detail":{"field":"g","type":"nominal"},
  "order":{"field":"y","type":"quantitative"}
 }},
{"data":{"name":"stars"},"mark":{"type":"point","shape":"M0,.5L.6,.8L.5,.1L1,-.3L.3,-.4L0,-1L-.3,-.4L-1,-.3L-.5,.1L-.6,.8L0,.5Z","filled":true,"color":"black","size":650,"opacity":1},
 "encoding":{
  "x":{"field":"x","type":"quantitative","scale":{"domain":[50,100],"nice":false,"zero":false},
   "axis":{"orient":"top","values":[50,55,60,65,70,75,80,85,90,95,100],"tickSize":22,"tickWidth":2,"domainWidth":2,"labels":false,"title":null}},
  "y":{"field":"y","type":"quantitative","scale":{"domain":[1.4,2.0],"nice":false,"zero":false},
   "axis":{"orient":"right","values":[1.4,1.45,1.5,1.55,1.6,1.65,1.7,1.75,1.8,1.85,1.9,1.95,2.0],"tickSize":22,"tickWidth":2,"domainWidth":2,"labels":false,"title":null}}
 }},
{"data":{"name":"glabels"},"mark":{"type":"text","color":"#c4c4c4","fontSize":28,"font":"Liberation Sans","align":"center","baseline":"middle"},
 "encoding":{
  "x":{"field":"x","type":"quantitative","scale":{"domain":[50,100],"nice":false,"zero":false},
   "axis":{"orient":"top","values":[50,51,52,53,54,55,56,57,58,59,60,61,62,63,64,65,66,67,68,69,70,71,72,73,74,75,76,77,78,79,80,81,82,83,84,85,86,87,88,89,90,91,92,93,94,95,96,97,98,99,100],"tickSize":10,"tickWidth":1.6,"domain":false,"labels":false,"title":null}},
  "y":{"field":"y","type":"quantitative","scale":{"domain":[1.4,2.0],"nice":false,"zero":false},
   "axis":{"orient":"right","values":[1.4,1.41,1.42,1.43,1.44,1.45,1.46,1.47,1.48,1.49,1.5,1.51,1.52,1.53,1.54,1.55,1.56,1.57,1.58,1.59,1.6,1.61,1.62,1.63,1.64,1.65,1.66,1.67,1.68,1.69,1.7,1.71,1.72,1.73,1.74,1.75,1.76,1.77,1.78,1.79,1.8,1.81,1.82,1.83,1.84,1.85,1.86,1.87,1.88,1.89,1.9,1.91,1.92,1.93,1.94,1.95,1.96,1.97,1.98,1.99,2.0],"tickSize":10,"tickWidth":1.6,"domain":false,"labels":false,"title":null}},
  "text":{"field":"t","type":"nominal"}
 }},
{"data":{"name":"clabels"},"mark":{"type":"text","color":"black","fontSize":28,"font":"Liberation Sans","align":"center","baseline":"middle"},
 "encoding":{
  "x":{"field":"x","type":"quantitative","scale":{"domain":[50,100],"nice":false,"zero":false},"axis":null},
  "y":{"field":"y","type":"quantitative","scale":{"domain":[1.4,2.0],"nice":false,"zero":false},"axis":null},
  "text":{"field":"t","type":"nominal"}
 }},
{"data":{"name":"names"},"mark":{"type":"text","color":"black","fontSize":30,"font":"Liberation Sans","align":"center","baseline":"middle"},
 "encoding":{
  "x":{"field":"x","type":"quantitative","scale":{"domain":[50,100],"nice":false,"zero":false},"axis":null},
  "y":{"field":"y","type":"quantitative","scale":{"domain":[1.4,2.0],"nice":false,"zero":false},"axis":null},
  "text":{"field":"t","type":"nominal"}
 }}
]
}
